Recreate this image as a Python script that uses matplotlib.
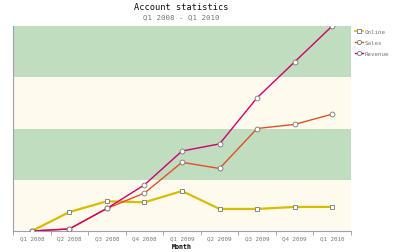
import matplotlib
matplotlib.use("Agg")
import matplotlib.pyplot as plt
from matplotlib.lines import Line2D

categories = ["Q1 2008", "Q2 2008", "Q3 2008", "Q4 2008", "Q1 2009",
              "Q2 2009", "Q3 2009", "Q4 2009", "Q1 2010"]
online = [0, 18.5, 29, 28, 39, 21.5, 21.5, 23.5, 23.5]
sales = [0, 2, 22, 37, 67, 61, 100, 104, 114]
revenue = [0, 2, 22, 45, 78, 85, 130, 165, 200]

fig = plt.figure(figsize=(4, 2.53), dpi=100)
ax = fig.add_axes([13/400, 21/253, 338/400, 205/253])

band_colors = ["#fffaee", "#c0ddc0"]
for i in range(4):
    ax.axhspan(i*50, (i+1)*50, color=band_colors[i % 2], zorder=0, lw=0)

x = list(range(len(categories)))
ax.plot(x, online, color="#d8bc00", lw=1.6, marker="s", ms=3.5,
        mfc="white", mec="#777777", mew=0.6, zorder=3, label="Online")
ax.plot(x, sales, color="#e05020", lw=1.0, marker="o", ms=3.5,
        mfc="white", mec="#777777", mew=0.6, zorder=4, label="Sales")
ax.plot(x, revenue, color="#d0006a", lw=1.0, marker="o", ms=3.5,
        mfc="white", mec="#777777", mew=0.6, zorder=5, label="Revenue")

ax.set_xlim(-0.5, 8.5)
ax.set_ylim(0, 200)
ax.set_yticks([])
ax.set_xticks([i + 0.5 for i in range(-1, 9)], minor=False)
ax.set_xticklabels([])
ax.set_xticks(x, minor=True)
ax.set_xticklabels(categories, minor=True, fontsize=4.2, color="#777777",
                   family="DejaVu Sans Mono")
ax.tick_params(axis="x", which="major", length=3, color="#999999", width=0.6)
ax.tick_params(axis="x", which="minor", length=0, pad=3)
for s in ["top", "right"]:
    ax.spines[s].set_visible(False)
ax.spines["left"].set_color("#a0a0b0")
ax.spines["bottom"].set_color("#a0a0b0")
ax.spines["left"].set_linewidth(0.8)
ax.spines["bottom"].set_linewidth(0.8)

ax.set_xlabel("Month", fontsize=4.8, fontweight="bold", family="DejaVu Sans Mono",
              labelpad=2)

fig.text(181/400, 1 - 7/253, "Account statistics", ha="center", va="center",
         fontsize=6.2, family="DejaVu Sans Mono", color="#111111")
fig.text(181/400, 1 - 17/253, "Q1 2008 - Q1 2010", ha="center", va="center",
         fontsize=5.4, family="DejaVu Sans Mono", color="#777777")

handles = [
    Line2D([], [], color="#d8bc00", lw=1.2, marker="s", ms=3, mfc="white", mec="#777777", mew=0.6),
    Line2D([], [], color="#e05020", lw=1.0, marker="o", ms=3, mfc="white", mec="#777777", mew=0.6),
    Line2D([], [], color="#d0006a", lw=1.0, marker="o", ms=3, mfc="white", mec="#777777", mew=0.6),
]
leg = fig.legend(handles, ["Online", "Sales", "Revenue"], loc="upper left",
                 bbox_to_anchor=(352/400, 1 - 27/253), frameon=False,
                 prop={"family": "DejaVu Sans Mono", "size": 4.2},
                 handlelength=1.3, handletextpad=0.4, labelspacing=1.0,
                 borderpad=0)
for t in leg.get_texts():
    t.set_color("#777777")

fig.savefig("out.png", dpi=100)
